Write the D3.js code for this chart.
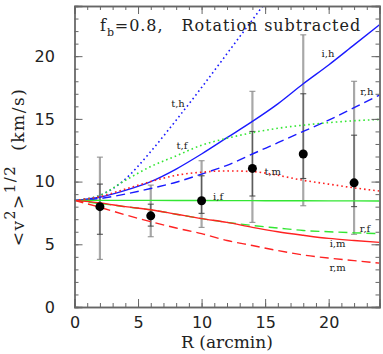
<!doctype html>
<html lang="en">
<head>
<meta charset="utf-8">
<title>Velocity dispersion profile</title>
<script src="https://d3js.org/d3.v7.min.js"></script>
<style>
  body { margin: 0; background: #fff; }
  text { fill: #222; }
  .num { font-family: "DejaVu Sans", sans-serif; font-size: 16px; }
  .axt { font-family: "DejaVu Serif", serif; font-size: 17px; white-space: pre; }
  .lbl { font-family: "DejaVu Serif", serif; font-size: 10px; }
  .ttl { font-family: "DejaVu Serif", serif; font-size: 16px; white-space: pre; }
</style>
</head>
<body>
<div class="chart"></div>
<script>
  // model curves, sampled every 2 arcmin
  const radius = [0, 2, 4, 6, 8, 10, 12, 14, 16, 18, 20, 22, 24];
  const curveTH = [8.5, 8.9, 10.2, 12.4, 14.9, 17.5, 20.2, 22.9, 25.6, 28.3, 31.0, 33.7, 36.4];
  const curveIH = [8.5, 8.75, 9.3, 10.0, 11.0, 12.2, 13.5, 14.8, 16.2, 17.8, 19.3, 20.9, 22.5];
  const curveRH = [8.5, 8.65, 9.0, 9.45, 9.95, 10.6, 11.3, 12.2, 13.1, 14.0, 14.9, 15.9, 16.9];
  const curveTF = [8.5, 8.9, 10.1, 11.2, 12.05, 12.9, 13.45, 13.9, 14.25, 14.5, 14.7, 14.85, 14.95];
  const curveIF = [8.5, 8.5, 8.5, 8.5, 8.49, 8.49, 8.48, 8.48, 8.47, 8.47, 8.46, 8.46, 8.45];
  const curveRF = [8.5, 8.25, 8.0, 7.75, 7.4, 7.05, 6.75, 6.5, 6.3, 6.1, 6.0, 5.92, 5.85];
  const curveTM = [8.5, 8.8, 9.4, 10.0, 10.5, 10.75, 10.85, 10.8, 10.5, 10.1, 9.8, 9.5, 9.25];
  const curveIM = [8.5, 8.3, 8.0, 7.75, 7.4, 7.05, 6.75, 6.35, 6.0, 5.72, 5.47, 5.3, 5.15];
  const curveRM = [8.5, 7.95, 7.35, 6.8, 6.3, 5.85, 5.3, 4.9, 4.5, 4.15, 3.9, 3.7, 3.5];

  // observed points with inner and outer error ranges
  const obsR = [2, 6, 10, 14, 18, 22];
  const obsV = [8.0, 7.27, 8.47, 11.05, 12.2, 9.9];
  const innerLo = [5.8, 6.45, 7.47, 8.85, 10.25, 8.0];
  const innerHi = [9.8, 8.2, 10.46, 14.0, 17.0, 13.7];
  const outerLo = [3.8, 5.6, 6.35, 6.75, 8.07, 5.8];
  const outerHi = [11.95, 9.72, 11.66, 17.2, 21.7, 18.0];

  const curveNames = ['t,h', 'i,h', 'r,h', 't,f', 'i,f', 'r,f', 't,m', 'i,m', 'r,m'];
  const curveValues = [curveTH, curveIH, curveRH, curveTF, curveIF, curveRF, curveTM, curveIM, curveRM];
  // label anchor (R, value) of each curve name
  const labelR = [8.14, 19.95, 23.0, 8.46, 11.3, 22.86, 15.6, 20.7, 20.7];
  const labelV = [15.95, 19.93, 16.9, 12.6, 8.53, 5.98, 10.53, 4.78, 2.87];

  const colours = { h: '#1a1aff', f: '#33e633', m: '#ff2222' };
  const dashes = { i: null, r: '9,5', t: '1.6,3' };

  const width = 383, height = 354;
  const margin = { top: 6, right: 3.5, bottom: 47, left: 74.5 };

  const svg = d3.select('.chart').append('svg')
    .attr('width', width)
    .attr('height', height);

  const x = d3.scaleLinear().domain([0, 24]).range([margin.left, width - margin.right]);
  const y = d3.scaleLinear().domain([0, 24]).range([height - margin.bottom, margin.top]);

  svg.append('clipPath').attr('id', 'plot')
    .append('rect')
    .attr('x', x(0)).attr('y', y(24))
    .attr('width', x(24) - x(0)).attr('height', y(0) - y(24));

  // error bars
  const bars = svg.append('g');
  obsR.forEach((r, i) => {
    const cx = x(r);
    bars.append('line')
      .attr('x1', cx).attr('x2', cx)
      .attr('y1', y(outerLo[i])).attr('y2', y(outerHi[i]))
      .attr('stroke', '#a8a8a8').attr('stroke-width', 2.2);
    [outerLo[i], outerHi[i]].forEach(v => {
      bars.append('line')
        .attr('x1', cx - 3).attr('x2', cx + 3)
        .attr('y1', y(v)).attr('y2', y(v))
        .attr('stroke', '#8a8a8a').attr('stroke-width', 1);
    });
    bars.append('line')
      .attr('x1', cx).attr('x2', cx)
      .attr('y1', y(innerLo[i])).attr('y2', y(innerHi[i]))
      .attr('stroke', '#555').attr('stroke-width', 1);
    [innerLo[i], innerHi[i]].forEach(v => {
      bars.append('line')
        .attr('x1', cx - 3).attr('x2', cx + 3)
        .attr('y1', y(v)).attr('y2', y(v))
        .attr('stroke', '#444').attr('stroke-width', 1);
    });
  });

  // model curves
  const line = d3.line()
    .x(d => x(d[0]))
    .y(d => y(d[1]))
    .curve(d3.curveMonotoneX);

  const curves = svg.append('g').attr('clip-path', 'url(#plot)');
  curveNames.forEach((name, i) => {
    const [kind, model] = name.split(',');
    curves.append('path')
      .datum(radius.map((r, j) => [r, curveValues[i][j]]))
      .attr('d', line)
      .attr('fill', 'none')
      .attr('stroke', colours[model])
      .attr('stroke-width', kind === 't' ? 1.6 : 1.4)
      .attr('stroke-dasharray', dashes[kind]);
  });

  svg.append('g').selectAll('text')
    .data(curveNames)
    .enter()
    .append('text')
    .attr('class', 'lbl')
    .attr('x', (d, i) => x(labelR[i]))
    .attr('y', (d, i) => y(labelV[i]))
    .attr('text-anchor', 'middle')
    .text(d => d);

  svg.append('g').selectAll('circle')
    .data(obsR)
    .enter()
    .append('circle')
    .attr('cx', d => x(d))
    .attr('cy', (d, i) => y(obsV[i]))
    .attr('r', 4.5)
    .attr('fill', '#000');

  // frame and ticks, all pointing inward
  const majorTicks = [0, 5, 10, 15, 20];
  const minorTicks = d3.range(0, 25, 1);
  const axisColour = '#666';

  function drawAxis(axisFn, scale, translate, labels) {
    const minor = svg.append('g')
      .attr('transform', translate)
      .call(axisFn(scale).tickValues(minorTicks).tickSize(-4).tickFormat(''));
    const major = svg.append('g')
      .attr('transform', translate)
      .call(axisFn(scale).tickValues(majorTicks).tickSize(-8).tickPadding(labels ? 18 : 0)
        .tickFormat(labels ? d3.format('d') : ''));
    [minor, major].forEach(g => {
      g.selectAll('.domain').attr('stroke', axisColour).attr('stroke-width', 1.3);
      g.selectAll('.tick line').attr('stroke', axisColour);
      g.selectAll('text').attr('class', 'num').attr('font-family', null).attr('font-size', null).attr('fill', '#222');
    });
    return major;
  }

  const xAx = drawAxis(d3.axisBottom, x, `translate(0,${y(0)})`, true);
  xAx.selectAll('text').attr('dy', '0.2em');
  drawAxis(d3.axisTop, x, `translate(0,${y(24)})`, false);
  const yAx = drawAxis(d3.axisLeft, y, `translate(${x(0)},0)`, true);
  yAx.selectAll('text').attr('dx', '-0.1em');
  drawAxis(d3.axisRight, y, `translate(${x(24)},0)`, false);

  // titles
  const title = svg.append('text')
    .attr('class', 'ttl')
    .attr('x', 100)
    .attr('y', 31);
  title.append('tspan').text('f');
  title.append('tspan').attr('dy', 5).attr('font-size', 11).text('b');
  title.append('tspan').attr('dy', -5).text('=0.8,   Rotation subtracted');
  const titleLen = title.node().getComputedTextLength();
  title.attr('letter-spacing', (262 - titleLen) / 30);

  svg.append('text')
    .attr('class', 'axt')
    .attr('x', (x(0) + x(24)) / 2)
    .attr('y', 348)
    .attr('text-anchor', 'middle')
    .text('R (arcmin)');

  const yTitle = svg.append('text')
    .attr('class', 'axt')
    .attr('transform', 'translate(24,167) rotate(-90)')
    .attr('text-anchor', 'middle')
    .attr('font-size', 20);
  yTitle.append('tspan').text('<v');
  yTitle.append('tspan').attr('dy', -9).attr('font-size', 14).text('2');
  yTitle.append('tspan').attr('dy', 9).text('>');
  yTitle.append('tspan').attr('dy', -9).attr('font-size', 15).text('1/2');
  yTitle.append('tspan').attr('dy', 9).text('  (km/s)');
  const yLen = yTitle.node().getComputedTextLength();
  yTitle.attr('letter-spacing', Math.min(1.5, Math.max(0, (200 - yLen) / 15)));
</script>
</body>
</html>
